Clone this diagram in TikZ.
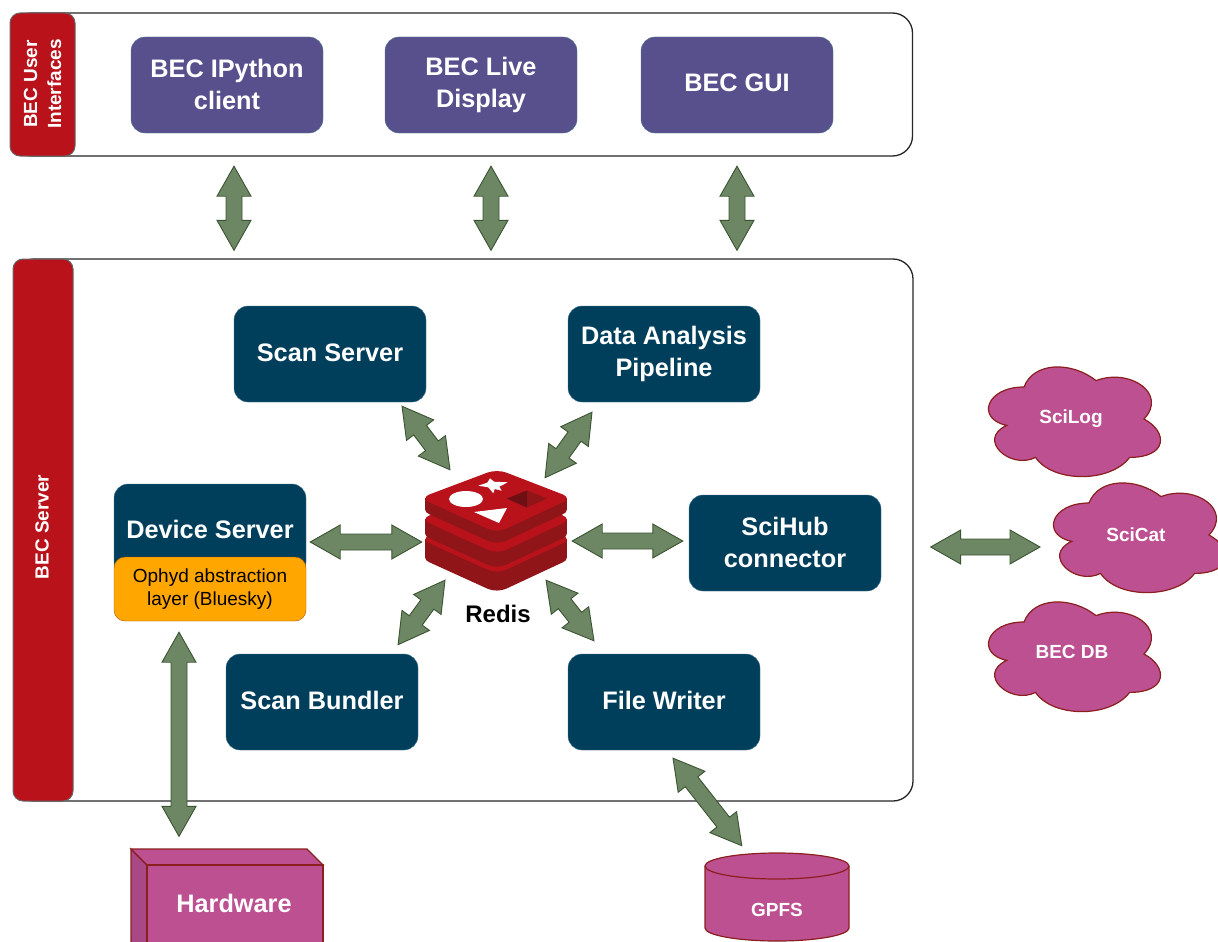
\documentclass[tikz,border=0pt]{standalone}
\usepackage{fontspec}
\setmainfont{Liberation Sans}
\usetikzlibrary{calc}

\definecolor{bandred}{HTML}{B9121B}
\definecolor{logodark}{HTML}{8F1519}
\definecolor{logopit}{HTML}{6E1013}
\definecolor{srvblue}{HTML}{003F5C}
\definecolor{uipurple}{HTML}{58508D}
\definecolor{layerorange}{HTML}{FFA600}
\definecolor{storepink}{HTML}{BC5090}
\definecolor{storeside}{HTML}{A94886}
\definecolor{storeedge}{HTML}{8B1E1E}
\definecolor{linkgreen}{HTML}{6D8764}
\definecolor{linkedge}{HTML}{3A5431}

\tikzset{
    bigtext/.style={font=\fontsize{25.3}{32}\selectfont\bfseries, text=white, align=center},
    midtext/.style={font=\fontsize{19}{24}\selectfont\bfseries, text=white, align=center},
    frame/.style={draw=black!85, line width=1.3pt, fill=white, rounded corners=20pt},
    band/.style={draw=black!60, line width=1pt, fill=bandred, rounded corners=10pt},
    srvbox/.style={bigtext, draw=srvblue!70!white, fill=srvblue, rounded corners=14pt, minimum width=192pt, minimum height=96pt, inner sep=0pt},
    uibox/.style={srvbox, draw=srvblue!70, fill=uipurple},
    store/.style={draw=storeedge, line width=1.2pt, fill=storepink},
    fatarrow/.style={draw=linkedge, line width=0.9pt, fill=linkgreen}
}

% thick double arrow between two points
\newcommand{\fatlink}[2]{%
    \path[fatarrow] let \p1=(#1), \p2=(#2), \n1={atan2(\y2-\y1,\x2-\x1)}, \n2={veclen(\x2-\x1,\y2-\y1)} in
        [shift={(\p1)}, rotate=\n1]
        (0pt,0pt) -- (30pt,17pt) -- (30pt,8pt) -- (\n2-30pt,8pt) -- (\n2-30pt,17pt) -- (\n2,0pt)
        -- (\n2-30pt,-17pt) -- (\n2-30pt,-8pt) -- (30pt,-8pt) -- (30pt,-17pt) -- cycle;
}

% cloud outline, box of 192 x 128 from the top left corner
\newcommand{\cloudshape}[2]{%
    \draw[store, shift={(#1,#2)}, x=1.92pt, y=-1.28pt]
        (25,25) .. controls (5,25) and (0,50) .. (16,55)
        .. controls (0,66) and (18,90) .. (31,80)
        .. controls (40,100) and (70,100) .. (80,80)
        .. controls (100,80) and (100,60) .. (87.5,50)
        .. controls (100,30) and (80,10) .. (62.5,20)
        .. controls (50,5) and (30,5) .. (25,25) -- cycle;
}

\begin{document}
\begin{tikzpicture}[x=1pt, y=-1pt]
    \useasboundingbox (0,0) rectangle (1218,942);
    \clip (0,0) rectangle (1218,942);

    % User interfaces
    \node[frame, minimum width=901pt, minimum height=143pt] (uiframe) at (462,84.5) {};
    \node[band, minimum width=65pt, minimum height=143pt] (uiband) at (42.5,84.5) {};
    \node[midtext, rotate=90] (uilabel) at (42.5,84) {BEC User\\Interfaces};
    \node[uibox, text depth=2pt] (ipython) at (227,85) {BEC IPython\\client};
    \node[uibox] (live) at (481,85) {BEC Live\\Display};
    \node[uibox, text depth=4pt] (gui) at (737,85) {BEC GUI};

    % Server
    \node[frame, minimum width=899pt, minimum height=542pt] (server) at (463.5,530) {};
    \node[band, minimum width=60pt, minimum height=542pt] (serverband) at (43,530) {};
    \node[midtext, rotate=90] (serverlabel) at (42,527) {BEC Server};
    \node[srvbox, text depth=2pt] (scansrv) at (330,354) {Scan Server};
    \node[srvbox] (analysis) at (664,354) {Data Analysis\\Pipeline};
    \node[srvbox, minimum height=92pt, text depth=2pt] (devsrv) at (210,530) {Device Server};
    \node[draw=orange!70!black, fill=layerorange, rounded corners=11pt, minimum width=192pt, minimum height=64pt, inner sep=0pt,
        font=\fontsize{19}{23}\selectfont, align=center] (ophyd) at (210,589) {Ophyd abstraction\\layer (Bluesky)};
    \node[srvbox, text depth=2pt] (scihub) at (785,543) {SciHub\\connector};
    \node[srvbox, text depth=4pt] (bundler) at (322,702) {Scan Bundler};
    \node[srvbox, text depth=4pt] (writer) at (664,702) {File Writer};

    % Redis logo
    \node[minimum width=143pt, minimum height=120pt, inner sep=0pt] (redis) at (496,530) {};
    \foreach \dy/\thick in {41/19, 21/15, 0/12} {
        \fill[logodark, rounded corners=10pt, shift={(0,\dy+\thick)}] (420,498) -- (497,469) -- (572,498) -- (497,533) -- cycle;
        \fill[logodark, shift={(0,\dy)}] (425,498) rectangle (567,498+\thick);
        \fill[bandred, rounded corners=10pt, shift={(0,\dy)}] (420,498) -- (497,469) -- (572,498) -- (497,533) -- cycle;
    }
    \fill[white] (466,499) ellipse [x radius=17pt, y radius=8pt];
    \fill[white] (474,512) -- (507,508) -- (499,523) -- cycle;
    \fill[white] (490,478.3) -- (494,481.7) -- (507.7,482.3) -- (499.3,486.7) -- (501.7,490.7) -- (494.7,489)
        -- (493.3,493.3) -- (488.3,487.3) -- (478.3,485.7) -- (487.3,482.7) -- cycle;
    \fill[logodark] (507,498.5) -- (527,490.5) -- (547,498.5) -- (527,507.5) -- cycle;
    \fill[logopit] (507,498.5) -- (527,490.5) -- (527,507.5) -- cycle;
    \node[font=\fontsize{24}{28}\selectfont\bfseries] (redislabel) at (498,614) {Redis};

    % Storage and services
    \cloudshape{976}{355}
    \cloudshape{1041}{471}
    \cloudshape{976}{590}
    \node[midtext] (scilog) at (1071,419) {SciLog};
    \node[midtext] (scicat) at (1136,535) {SciCat};
    \node[midtext] (becdb) at (1072,652) {BEC DB};

    \fill[storeside, draw=storeedge, line width=1.2pt] (131,849) -- (147,865) -- (147,958) -- (131,942) -- cycle;
    \fill[storepink, draw=storeedge, line width=1.2pt] (131,849) -- (307,849) -- (323,865) -- (147,865) -- cycle;
    \node[store, bigtext, minimum width=176pt, minimum height=93pt, inner sep=0pt] (hardware) at (235,911.5) {};
    \node[bigtext] (hwlabel) at (234,903) {Hardware};

    \draw[store] (705,866) -- (705,928) arc [start angle=180, end angle=360, x radius=72pt, y radius=13pt]
        -- (849,866) arc [start angle=0, end angle=180, x radius=72pt, y radius=13pt] -- cycle;
    \draw[store] (705,866) arc [start angle=180, end angle=360, x radius=72pt, y radius=13pt];
    \coordinate (gpfstop) at (777,853);
    \node[midtext] (gpfs) at (777,910) {GPFS};

    % Links
    \fatlink{$(ipython.south)+(7,33)$}{$(server.north)+(-229.5,-8)$}
    \fatlink{$(live.south)+(10,33)$}{$(server.north)+(27.5,-8)$}
    \fatlink{$(gui.south)+(0,33)$}{$(server.north)+(273.5,-8)$}
    \fatlink{$(scansrv.south)+(72,4)$}{$(redis.north)+(-46,0)$}
    \fatlink{$(analysis.south)+(-72,10)$}{$(redis.north)+(49,8)$}
    \fatlink{$(devsrv.east)+(4,12)$}{$(redis.west)+(-2.5,12)$}
    \fatlink{$(redis.east)+(4.5,11)$}{$(scihub.west)+(-6,-2)$}
    \fatlink{$(redis.south)+(-51,-10)$}{$(bundler.north)+(76,-9)$}
    \fatlink{$(redis.south)+(50,-10)$}{$(writer.north)+(-70,-13)$}
    \fatlink{$(ophyd.south)+(-31,11)$}{$(hardware.north)+(-56,-28)$}
    \fatlink{$(writer.south)+(9,8)$}{$(gpfstop)+(-35,-7)$}
    \fatlink{$(server.east)+(17,17)$}{$(scicat)+(-96,12)$}
\end{tikzpicture}
\end{document}
